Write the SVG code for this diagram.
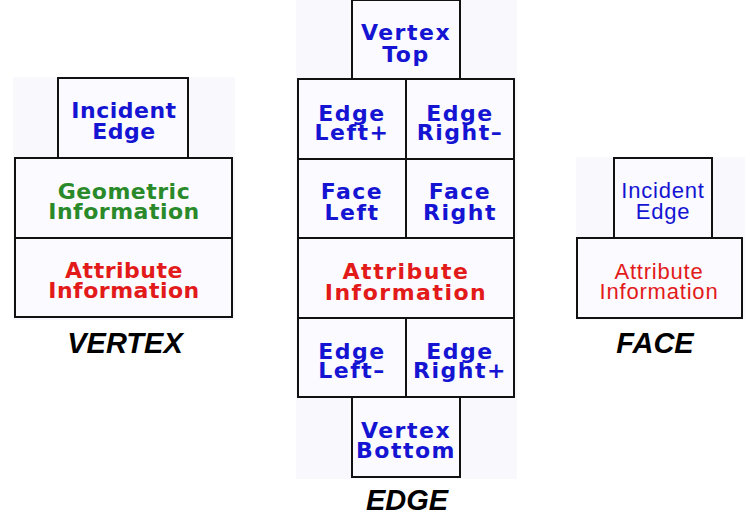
<svg xmlns="http://www.w3.org/2000/svg" width="750" height="519" viewBox="0 0 750 519">
<style>
.panel{fill:#f9f8fd;stroke:none}
.box{fill:#fbfaff;stroke:#111;stroke-width:2}
.t{font-family:"DejaVu Sans",Verdana,sans-serif;font-size:22px;font-weight:bold;text-anchor:middle;letter-spacing:0.5px}
.e{letter-spacing:1.5px}
.f{font-family:"Liberation Sans",Arial,sans-serif;font-size:22px;text-anchor:middle;letter-spacing:0.8px}
.blue{fill:#1414d2}
.green{fill:#2a8a2a}
.red{fill:#e21a1a}
.title{font-family:"Liberation Sans",Arial,sans-serif;font-size:29px;font-weight:bold;font-style:italic;text-anchor:middle;fill:#000}
</style>
<rect width="750" height="519" fill="#ffffff"/>
<rect class="panel" x="13" y="77" width="222" height="243"/>
<rect class="panel" x="296" y="0" width="221" height="479"/>
<rect class="panel" x="576" y="157" width="169" height="163"/>

<g id="vertex">
  <g id="vertex-incident-edge">
    <rect class="box" x="58" y="78" width="130" height="80"/>
    <text class="t blue" x="124" y="118">Incident</text>
    <text class="t blue" x="124" y="139">Edge</text>
  </g>
  <g id="vertex-geometric">
    <rect class="box" x="15" y="158" width="217" height="80"/>
    <text class="t green" x="124" y="199">Geometric</text>
    <text class="t green" x="124" y="219">Information</text>
  </g>
  <g id="vertex-attribute">
    <rect class="box" x="15" y="238" width="217" height="79"/>
    <text class="t red" x="124" y="278">Attribute</text>
    <text class="t red" x="124" y="298">Information</text>
  </g>
  <text class="title" x="125" y="353">VERTEX</text>
</g>

<g id="edge">
  <g id="edge-vertex-top">
    <rect class="box" x="352" y="0" width="108" height="79"/>
    <text class="t e blue" x="406" y="40">Vertex</text>
    <text class="t e blue" x="406" y="62">Top</text>
  </g>
  <g id="edge-left-plus">
    <rect class="box" x="298" y="79" width="108" height="80"/>
    <text class="t e blue" x="352" y="121">Edge</text>
    <text class="t e blue" x="352" y="140">Left+</text>
  </g>
  <g id="edge-right-minus">
    <rect class="box" x="406" y="79" width="108" height="80"/>
    <text class="t e blue" x="460" y="121">Edge</text>
    <text class="t e blue" x="460" y="140">Right–</text>
  </g>
  <g id="face-left">
    <rect class="box" x="298" y="159" width="108" height="79"/>
    <text class="t e blue" x="352" y="199">Face</text>
    <text class="t e blue" x="352" y="220">Left</text>
  </g>
  <g id="face-right">
    <rect class="box" x="406" y="159" width="108" height="79"/>
    <text class="t e blue" x="460" y="199">Face</text>
    <text class="t e blue" x="460" y="220">Right</text>
  </g>
  <g id="edge-attribute">
    <rect class="box" x="298" y="238" width="216" height="80"/>
    <text class="t e red" x="406" y="279">Attribute</text>
    <text class="t e red" x="406" y="300">Information</text>
  </g>
  <g id="edge-left-minus">
    <rect class="box" x="298" y="318" width="108" height="79"/>
    <text class="t e blue" x="352" y="359">Edge</text>
    <text class="t e blue" x="352" y="378">Left–</text>
  </g>
  <g id="edge-right-plus">
    <rect class="box" x="406" y="318" width="108" height="79"/>
    <text class="t e blue" x="460" y="359">Edge</text>
    <text class="t e blue" x="460" y="378">Right+</text>
  </g>
  <g id="edge-vertex-bottom">
    <rect class="box" x="352" y="397" width="108" height="80"/>
    <text class="t e blue" x="406" y="438">Vertex</text>
    <text class="t e blue" x="406" y="458">Bottom</text>
  </g>
  <text class="title" x="407" y="510">EDGE</text>
</g>

<g id="face">
  <g id="face-incident-edge">
    <rect class="box" x="614" y="158" width="98" height="80"/>
    <text class="f blue" x="663" y="198">Incident</text>
    <text class="f blue" x="663" y="219">Edge</text>
  </g>
  <g id="face-attribute">
    <rect class="box" x="577" y="238" width="165" height="80"/>
    <text class="f red" x="659" y="279">Attribute</text>
    <text class="f red" x="659" y="299">Information</text>
  </g>
  <text class="title" x="655" y="353">FACE</text>
</g>

<g id="connectors"/>
</svg>
